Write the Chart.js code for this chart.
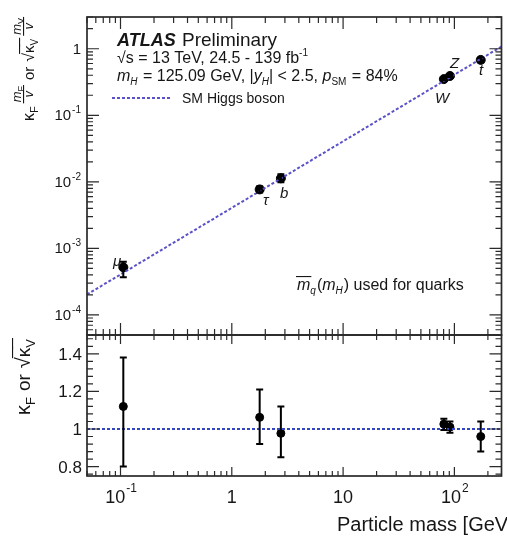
<!DOCTYPE html>
<html>
<head>
<meta charset="utf-8">
<script src="https://cdn.jsdelivr.net/npm/chart.js@4.4.1/dist/chart.umd.min.js"></script>
<style>
  html, body { margin: 0; padding: 0; background: #fff; }
  #wrap { position: relative; width: 507px; height: 538px; }
</style>
</head>
<body>
<div id="wrap"><canvas id="massChart" width="507" height="538"></canvas></div>
<script>
// values
const particles = ['μ', 'τ', 'b', 'W', 'Z', 't'];
const masses = [0.106, 1.78, 2.76, 80.4, 91.2, 172.5];
const reducedCoupling = [5.2e-4, 7.7e-3, 1.13e-2, 0.35, 0.39, 0.68];
const reducedLow = [3.7e-4, 6.9e-3, 9.9e-3, 0.335, 0.375, 0.62];
const reducedHigh = [6.3e-4, 8.6e-3, 1.3e-2, 0.365, 0.405, 0.74];
const kappa = [1.12, 1.062, 0.977, 1.026, 1.01, 0.96];
const kappaLow = [0.80, 0.92, 0.85, 0.995, 0.98, 0.88];
const kappaHigh = [1.38, 1.21, 1.12, 1.055, 1.04, 1.04];

// SM expectation (dashed lines)
const smMass = [0.05, 265];
const smCoupling = [2.03e-4, 1.08];
const smKappa = [1, 1];

// tick labels
const xMajor = [0.1, 1, 10, 100];
const xLabels = [['10', '-1'], ['1', ''], ['10', ''], ['10', '2']];
const yTopMajor = [1e-4, 1e-3, 1e-2, 1e-1, 1];
const yTopLabels = [['10', '-4'], ['10', '-3'], ['10', '-2'], ['10', '-1'], ['1', '']];
const yBotMajor = [0.8, 1, 1.2, 1.4];
const yBotLabels = ['0.8', '1', '1.2', '1.4'];

const FAMILY = '"Liberation Sans", Arial, Helvetica, sans-serif';
const font = (size, style) => (style ? style + ' ' : '') + size + 'px ' + FAMILY;
const INK = '#161616';

// draw a run of text pieces (sub/superscripts, fractions) along the baseline
function drawParts(c, x, y, parts, measureOnly) {
    let cx = x;
    parts.forEach(p => {
        if (p.frac) {
            const wn = drawParts(c, 0, 0, p.num, true);
            const wd = drawParts(c, 0, 0, p.den, true);
            const w = Math.max(wn, wd) + 2;
            if (!measureOnly) {
                drawParts(c, cx + (w - wn) / 2, y + p.numDy, p.num);
                drawParts(c, cx + (w - wd) / 2, y + p.denDy, p.den);
                c.fillRect(cx, y + p.lineDy, w, 1.1);
            }
            cx += w + (p.gap || 0);
            return;
        }
        c.font = font(p.size, p.style);
        const w = c.measureText(p.t).width;
        if (!measureOnly) {
            c.fillText(p.t, cx, y + (p.dy || 0));
            if (p.overY !== undefined) c.fillRect(cx - 1, y + p.overY, w + 2, 1.1);
        }
        cx += w + (p.gap || 0);
    });
    return cx - x;
}

function logValues(min, max) {
    const out = [];
    for (let d = Math.floor(Math.log10(min)); d <= Math.ceil(Math.log10(max)); d++) {
        for (let k = 1; k <= 9; k++) {
            const v = k * Math.pow(10, d);
            if (v >= min * 0.999 && v <= max * 1.001) out.push({ v, major: k === 1 });
        }
    }
    return out;
}

// vertical error bars with small caps
const errorBars = {
    id: 'errorBars',
    afterDatasetsDraw(chart) {
        const c = chart.ctx;
        chart.data.datasets.forEach(ds => {
            if (!ds.errLow) return;
            const xs = chart.scales.x;
            const ys = chart.scales[ds.yAxisID];
            c.save();
            c.strokeStyle = '#000';
            c.lineWidth = 2;
            ds.data.forEach((p, i) => {
                const px = xs.getPixelForValue(p.x);
                const lo = ys.getPixelForValue(ds.errLow[i]);
                const hi = ys.getPixelForValue(ds.errHigh[i]);
                c.beginPath();
                c.moveTo(px, lo); c.lineTo(px, hi);
                c.moveTo(px - 3.5, lo); c.lineTo(px + 3.5, lo);
                c.moveTo(px - 3.5, hi); c.lineTo(px + 3.5, hi);
                c.stroke();
            });
            c.restore();
        });
    }
};

// ROOT-like frames, inner ticks, labels and annotations
const atlasDecor = {
    id: 'atlasDecor',
    afterDraw(chart) {
        const c = chart.ctx;
        const xs = chart.scales.x, yt = chart.scales.yTop, yb = chart.scales.yBot;
        const L = xs.left, R = xs.right;
        c.save();
        c.strokeStyle = '#2a2a2a';
        c.fillStyle = INK;
        c.lineWidth = 1.7;
        c.strokeRect(L, yt.top, R - L, yt.bottom - yt.top);
        c.strokeRect(L, yb.top, R - L, yb.bottom - yb.top);

        c.lineWidth = 1.2;
        c.beginPath();
        // x ticks
        logValues(xs.min, xs.max).forEach(t => {
            const px = xs.getPixelForValue(t.v);
            const a = t.major ? 12 : 6, b = t.major ? 9 : 5;
            c.moveTo(px, yt.top); c.lineTo(px, yt.top + a);
            c.moveTo(px, yt.bottom); c.lineTo(px, yt.bottom - a);
            c.moveTo(px, yb.top); c.lineTo(px, yb.top + b);
            c.moveTo(px, yb.bottom); c.lineTo(px, yb.bottom - b);
        });
        // top panel y ticks
        logValues(yt.min, yt.max).forEach(t => {
            const py = yt.getPixelForValue(t.v);
            const a = t.major ? 12 : 6;
            c.moveTo(L, py); c.lineTo(L + a, py);
            c.moveTo(R, py); c.lineTo(R - a, py);
        });
        // bottom panel y ticks (major 0.2, minor 0.04)
        for (let k = 19; k <= 37; k++) {
            const v = k * 0.04;
            const py = yb.getPixelForValue(v);
            const a = (k % 5 === 0) ? 12 : 6;
            c.moveTo(L, py); c.lineTo(L + a, py);
            c.moveTo(R, py); c.lineTo(R - a, py);
        }
        c.stroke();

        // x tick labels
        c.textBaseline = 'alphabetic';
        xMajor.forEach((v, i) => {
            const px = xs.getPixelForValue(v);
            c.font = font(18);
            const wb = c.measureText(xLabels[i][0]).width;
            c.font = font(12);
            const we = c.measureText(xLabels[i][1]).width;
            const x0 = px - (wb + we) / 2;
            c.font = font(18);
            c.fillText(xLabels[i][0], x0, 503);
            c.font = font(12);
            c.fillText(xLabels[i][1], x0 + wb + 1, 492);
        });
        // top y labels
        yTopMajor.forEach((v, i) => {
            const py = yt.getPixelForValue(v);
            c.font = font(15);
            const wb = c.measureText(yTopLabels[i][0]).width;
            c.font = font(10);
            const we = c.measureText(yTopLabels[i][1]).width;
            const x0 = 81 - wb - we - (we ? 1 : 0);
            c.font = font(15);
            c.fillText(yTopLabels[i][0], x0, py + 5);
            c.font = font(10);
            c.fillText(yTopLabels[i][1], x0 + wb + 1, py - 2);
        });
        // bottom y labels
        c.font = font(17);
        c.textAlign = 'right';
        yBotMajor.forEach((v, i) => {
            c.fillText(yBotLabels[i], 82, yb.getPixelForValue(v) + 6);
        });
        c.textAlign = 'left';

        // x axis title (runs off the right edge like the original)
        c.font = font(20);
        c.fillText('Particle mass [GeV]', 337, 531);

        // y axis titles, rotated
        const topTitle = [
            { t: 'κ', size: 16 },
            { t: 'F', size: 11, dy: 4, gap: 3 },
            { frac: true, num: [{ t: 'm', size: 13, style: 'italic' }, { t: 'F', size: 9, dy: 3 }],
              den: [{ t: 'v', size: 13, style: 'italic' }], numDy: -13, denDy: -1, lineDy: -11, gap: 5 },
            { t: 'or', size: 15, gap: 5 },
            { t: '√', size: 16 },
            { t: 'κ', size: 15, overY: -15 },
            { t: 'V', size: 10, dy: 4, overY: -15, gap: 3 },
            { frac: true, num: [{ t: 'm', size: 13, style: 'italic' }, { t: 'V', size: 9, dy: 3 }],
              den: [{ t: 'v', size: 13, style: 'italic' }], numDy: -13, denDy: -1, lineDy: -11 }
        ];
        c.save();
        const wTop = drawParts(c, 0, 0, topTitle, true);
        c.translate(34, 69 + wTop / 2);
        c.rotate(-Math.PI / 2);
        drawParts(c, 0, 0, topTitle);
        c.restore();

        const botTitle = [
            { t: 'κ', size: 20 },
            { t: 'F', size: 13, dy: 5, gap: 6 },
            { t: 'or', size: 19, gap: 6 },
            { t: '√', size: 20 },
            { t: 'κ', size: 19, overY: -18 },
            { t: 'V', size: 13, dy: 5, overY: -18 }
        ];
        c.save();
        const wBot = drawParts(c, 0, 0, botTitle, true);
        c.translate(30, 377 + wBot / 2);
        c.rotate(-Math.PI / 2);
        drawParts(c, 0, 0, botTitle);
        c.restore();

        // ATLAS label block
        c.font = font(18, 'italic bold');
        c.fillText('ATLAS', 117, 46);
        c.font = font(19);
        c.fillText('Preliminary', 182, 46);
        drawParts(c, 117, 63, [
            { t: '√s = 13 TeV, 24.5 - 139 fb', size: 16 },
            { t: '-1', size: 10, dy: -7 }
        ]);
        drawParts(c, 117, 81, [
            { t: 'm', size: 16, style: 'italic' },
            { t: 'H', size: 10, style: 'italic', dy: 4, gap: 1 },
            { t: ' = 125.09 GeV, |', size: 16 },
            { t: 'y', size: 16, style: 'italic' },
            { t: 'H', size: 10, style: 'italic', dy: 4 },
            { t: '| < 2.5, ', size: 16 },
            { t: 'p', size: 16, style: 'italic' },
            { t: 'SM', size: 10, dy: 4, gap: 1 },
            { t: ' = 84%', size: 16 }
        ]);
        c.save();
        c.strokeStyle = '#5b52c9';
        c.lineWidth = 2;
        c.setLineDash([3, 2]);
        c.beginPath();
        c.moveTo(112, 98); c.lineTo(172, 98);
        c.stroke();
        c.restore();
        c.font = font(14);
        c.fillText('SM Higgs boson', 182, 103);

        drawParts(c, 297, 290, [
            { t: 'm', size: 16, style: 'italic', overY: -14 },
            { t: 'q', size: 10, style: 'italic', dy: 4, gap: 1 },
            { t: '(', size: 16 },
            { t: 'm', size: 16, style: 'italic' },
            { t: 'H', size: 10, style: 'italic', dy: 4, gap: 1 },
            { t: ') used for quarks', size: 16 }
        ]);

        // particle names next to the points
        c.font = font(15, 'italic');
        const namePos = [[113, 266], [263, 205], [280, 198], [435, 103], [450, 68], [479, 75]];
        particles.forEach((p, i) => c.fillText(p, namePos[i][0], namePos[i][1]));
        c.restore();
    }
};

const hiddenAxis = {
    ticks: { display: false },
    grid: { display: false, drawTicks: false },
    border: { display: false },
    title: { display: false }
};

const ctx = document.getElementById('massChart').getContext('2d');
new Chart(ctx, {
    type: 'scatter',
    data: {
        datasets: [
            {
                type: 'line',
                data: smMass.map((m, i) => ({ x: m, y: smCoupling[i] })),
                yAxisID: 'yTop',
                borderColor: '#5b52c9',
                borderWidth: 2,
                borderDash: [3, 2],
                pointRadius: 0,
                fill: false
            },
            {
                data: masses.map((m, i) => ({ x: m, y: reducedCoupling[i] })),
                yAxisID: 'yTop',
                backgroundColor: '#000',
                borderColor: '#000',
                pointRadius: 4.5,
                errLow: reducedLow,
                errHigh: reducedHigh
            },
            {
                type: 'line',
                data: smMass.map((m, i) => ({ x: m, y: smKappa[i] })),
                yAxisID: 'yBot',
                borderColor: '#3146c0',
                borderWidth: 2,
                borderDash: [3, 2],
                pointRadius: 0,
                fill: false
            },
            {
                data: masses.map((m, i) => ({ x: m, y: kappa[i] })),
                yAxisID: 'yBot',
                backgroundColor: '#000',
                borderColor: '#000',
                pointRadius: 4,
                errLow: kappaLow,
                errHigh: kappaHigh
            }
        ]
    },
    options: {
        responsive: false,
        animation: false,
        devicePixelRatio: 1,
        layout: { padding: { left: 87, top: 17, right: 3, bottom: 62 } },
        plugins: { legend: { display: false }, tooltip: { enabled: false } },
        scales: {
            x: { type: 'logarithmic', min: 0.05, max: 265, position: 'bottom', ...hiddenAxis },
            yTop: { type: 'logarithmic', min: 5e-5, max: 3, position: 'left',
                    stack: 'panels', stackWeight: 318, weight: 2, ...hiddenAxis },
            yBot: { type: 'linear', min: 0.75, max: 1.5, position: 'left',
                    stack: 'panels', stackWeight: 141, weight: 1, ...hiddenAxis }
        }
    },
    plugins: [errorBars, atlasDecor]
});
</script>
</body>
</html>
